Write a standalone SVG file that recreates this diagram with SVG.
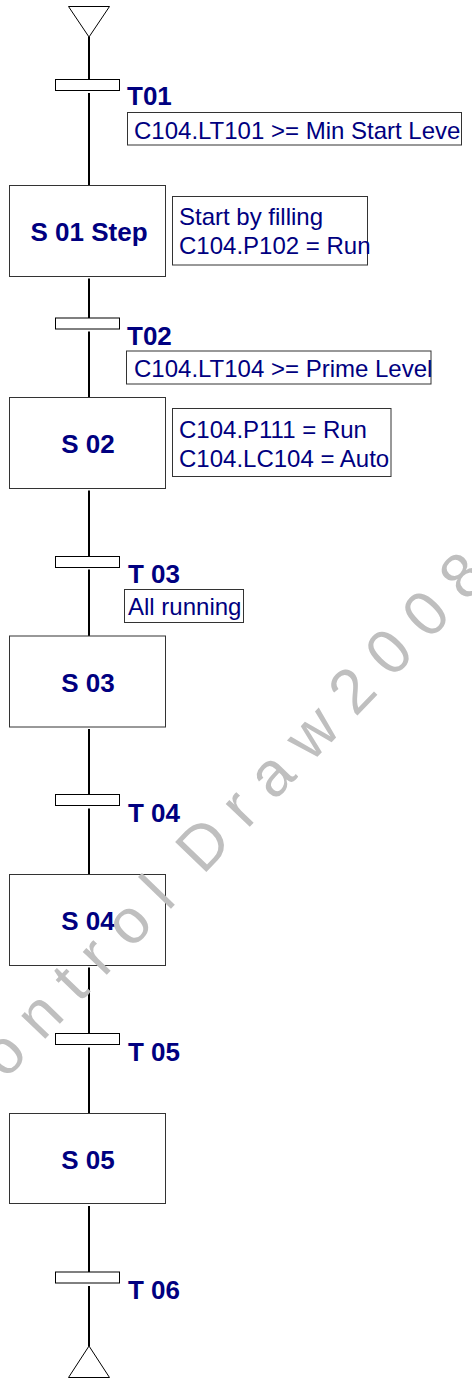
<svg xmlns="http://www.w3.org/2000/svg" width="472" height="1378" viewBox="0 0 472 1378">
<style>
.ln{stroke:#000;stroke-width:2;fill:none}
.bar{fill:#fff;stroke:#000;stroke-width:1}
.box{fill:#fff;stroke:#333;stroke-width:1}
.cb{fill:none;stroke:#333;stroke-width:1}
.term{fill:#fff;stroke:#000;stroke-width:1}
.lbl{font-family:"Liberation Sans",Arial,sans-serif;font-weight:bold;font-size:26px;fill:#000080}
.txt{font-family:"Liberation Sans",Arial,sans-serif;font-size:24px;fill:#000080}
.wm{font-family:"Liberation Sans",Arial,sans-serif;font-size:63px;fill:#bfbfbf;white-space:pre}
</style>
<rect width="472" height="1378" fill="#fff"/>
<g id="connectors">
<line class="ln" x1="89" y1="37" x2="89" y2="79.5"/>
<line class="ln" x1="89" y1="93" x2="89" y2="185.5"/>
<line class="ln" x1="89" y1="278.5" x2="89" y2="318"/>
<line class="ln" x1="89" y1="331.5" x2="89" y2="397.5"/>
<line class="ln" x1="89" y1="490.5" x2="89" y2="556.5"/>
<line class="ln" x1="89" y1="569.5" x2="89" y2="636"/>
<line class="ln" x1="89" y1="729" x2="89" y2="794.5"/>
<line class="ln" x1="89" y1="808.5" x2="89" y2="874.5"/>
<line class="ln" x1="89" y1="967.5" x2="89" y2="1033.5"/>
<line class="ln" x1="89" y1="1047.5" x2="89" y2="1113.5"/>
<line class="ln" x1="89" y1="1206" x2="89" y2="1272"/>
<line class="ln" x1="89" y1="1286" x2="89" y2="1346"/>
</g>
<g id="start"><polygon class="term" points="68.5,6.5 109.5,6.5 89,37"/></g>
<g id="T01">
<rect class="bar" x="55.5" y="79.5" width="64" height="11"/>
<text class="lbl" x="127" y="105">T01</text>
<rect class="cb" x="127.5" y="112.5" width="334" height="32.5"/>
<text class="txt" x="134" y="139">C104.LT101 &gt;= Min Start Leve</text>
</g>
<g id="S01">
<rect class="box" x="9.5" y="185.5" width="156" height="91"/>
<text class="lbl" x="89" y="241" text-anchor="middle">S 01 Step</text>
<rect class="cb" x="172.5" y="196.5" width="195" height="68.5"/>
<text class="txt" x="179" y="225">Start by filling</text>
<text class="txt" x="179" y="254">C104.P102 = Run</text>
</g>
<g id="T02">
<rect class="bar" x="55.5" y="318" width="64" height="11"/>
<text class="lbl" x="127" y="345">T02</text>
<rect class="cb" x="126.5" y="351" width="304.5" height="33"/>
<text class="txt" x="134" y="377">C104.LT104 &gt;= Prime Level</text>
</g>
<g id="S02">
<rect class="box" x="9.5" y="397.5" width="156" height="91"/>
<text class="lbl" x="88" y="453" text-anchor="middle">S 02</text>
<rect class="cb" x="172.5" y="408.5" width="218.5" height="68"/>
<text class="txt" x="179" y="438">C104.P111 = Run</text>
<text class="txt" x="179" y="467">C104.LC104 = Auto</text>
</g>
<g id="T03">
<rect class="bar" x="55.5" y="556.5" width="64" height="11"/>
<text class="lbl" x="128" y="583">T 03</text>
<rect class="cb" x="124.5" y="589.5" width="119" height="33"/>
<text class="txt" x="128" y="615">All running</text>
</g>
<g id="S03">
<rect class="box" x="9.5" y="636" width="156" height="91"/>
<text class="lbl" x="88" y="692" text-anchor="middle">S 03</text>
</g>
<g id="T04">
<rect class="bar" x="55.5" y="794.5" width="64" height="11"/>
<text class="lbl" x="128" y="822">T 04</text>
</g>
<g id="S04">
<rect class="box" x="9.5" y="874.5" width="156" height="91"/>
<text class="lbl" x="88" y="930" text-anchor="middle">S 04</text>
</g>
<g id="T05">
<rect class="bar" x="55.5" y="1033.5" width="64" height="11"/>
<text class="lbl" x="128" y="1061">T 05</text>
</g>
<g id="S05">
<rect class="box" x="9.5" y="1113.5" width="156" height="90"/>
<text class="lbl" x="88" y="1169" text-anchor="middle">S 05</text>
</g>
<g id="T06">
<rect class="bar" x="55.5" y="1272" width="64" height="11"/>
<text class="lbl" x="128" y="1299">T 06</text>
</g>
<g id="end"><polygon class="term" points="89,1346 68.5,1377.5 109.5,1377.5"/></g>
<g id="watermark">
<text class="wm" x="-39" y="1126" transform="rotate(-46 -39 1126)" textLength="762" lengthAdjust="spacing">C o n t r o l  D r a w 2 0 0 8</text>
</g>
</svg>
